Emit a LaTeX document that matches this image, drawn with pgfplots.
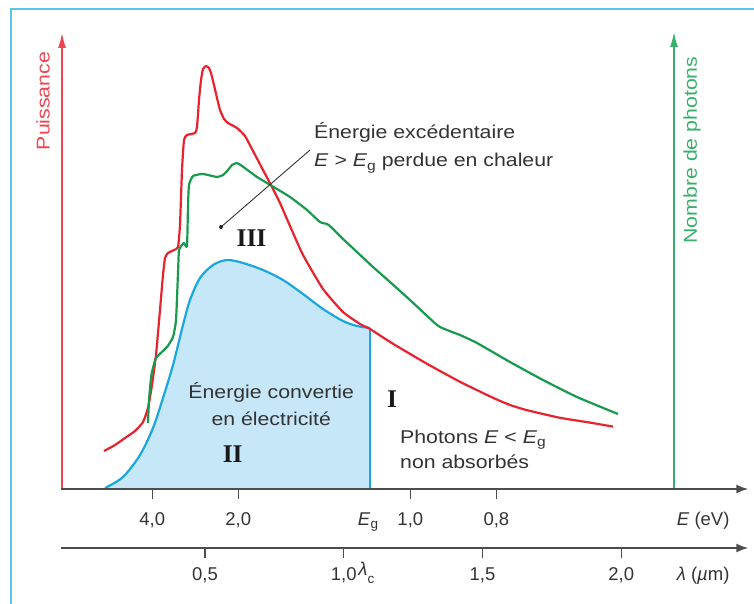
\documentclass[border=0pt]{standalone}
\usepackage{pgfplots}
\pgfplotsset{compat=1.18}
\usepackage{fontspec}
\setmainfont{Liberation Sans}
\newfontfamily\widef{Liberation Sans}[FakeStretch=1.15]
\newfontfamily\romanf{Liberation Serif}
\usetikzlibrary{arrows.meta}
\definecolor{cred}{HTML}{E8232E}
\definecolor{credax}{HTML}{EF4550}
\definecolor{cgreen}{HTML}{179A4D}
\definecolor{cgreenax}{HTML}{36B06A}
\definecolor{cblue}{HTML}{1AA7E1}
\definecolor{cfill}{HTML}{C6E7F8}
\definecolor{cframe}{HTML}{5CC5EE}
\definecolor{caxis}{HTML}{4D4D4D}
\definecolor{ctext}{HTML}{333333}
\newcommand\sub[1]{\raisebox{-0.4ex}{\fontsize{13.5}{14}\selectfont #1}}
\newcommand\txt{\fontsize{18.5}{22}\selectfont}
\newcommand\wtxt{\widef\fontsize{18.5}{22}\selectfont}
\newcommand\rom{\romanf\bfseries\fontsize{25.5}{26}\selectfont}

\pgfplotstableread{
x y
0.1360 9.50
0.1757 11.00
0.2117 12.75
0.2477 14.50
0.2766 16.75
0.2946 20.25
0.3090 26.00
0.3234 33.50
0.3378 44.75
0.3486 53.50
0.3559 57.75
0.3667 59.00
0.3883 59.75
0.4027 60.50
0.4099 66.00
0.4171 79.75
0.4243 87.25
0.4351 88.50
0.4640 89.00
0.4712 90.50
0.4784 97.25
0.4856 102.25
0.4928 105.00
0.5036 105.75
0.5144 105.25
0.5216 104.00
0.5324 101.00
0.5432 97.75
0.5541 94.75
0.5685 92.50
0.5829 91.50
0.6153 90.25
0.6441 88.25
0.6730 84.50
0.7090 79.75
0.7414 75.50
0.7703 71.50
0.8063 65.75
0.8532 58.50
0.9252 50.00
0.9973 44.25
1.0586 41.25
1.0946 40.00
1.1775 36.30
1.3000 31.30
1.4189 26.80
1.5378 22.80
1.5991 21.00
1.6604 19.70
1.7793 17.80
1.8874 16.60
1.9703 15.60
}\powertable

\pgfplotstableread{
x y
0.2946 16.50
0.2982 22.25
0.3054 27.75
0.3090 29.25
0.3234 32.75
0.3631 35.50
0.3847 38.00
0.3955 42.25
0.4027 54.00
0.4063 59.75
0.4171 61.00
0.4243 61.50
0.4351 60.75
0.4387 70.50
0.4423 76.00
0.4568 78.25
0.4928 78.75
0.5432 78.00
0.5649 78.50
0.5829 79.75
0.5973 81.00
0.6153 81.50
0.6333 80.75
0.6874 78.00
0.7414 75.75
0.8063 73.00
0.8676 69.75
0.9144 66.75
0.9396 66.25
0.9541 65.50
0.9973 62.50
1.0477 59.25
1.1054 55.50
1.1667 51.75
1.2387 47.25
1.3360 41.00
1.3721 39.75
1.4189 38.50
1.4802 36.50
1.5991 31.75
1.7180 27.25
1.8405 23.00
1.9883 18.75
}\photontable

\pgfplotstableread{
x y
0.1396 0.25
0.2045 3.00
0.2658 8.50
0.3126 15.25
0.3486 22.75
0.3847 31.00
0.4207 41.00
0.4459 47.25
0.4820 52.75
0.5288 56.00
0.5793 57.25
0.6369 56.50
0.7090 54.75
0.7811 52.25
0.8532 48.75
0.9252 45.00
0.9973 42.00
1.0477 40.75
1.0946 40.25
}\convtable

\begin{document}
\begin{tikzpicture}
\begin{axis}[scale only axis, width=754pt, height=603pt,
  xmin=-0.23874, xmax=2.47838, ymin=-28.5, ymax=122.25,
  axis lines=none, clip=false]
% frame
\draw[cframe, line width=2pt] (axis cs:-0.1991,-30) -- (axis cs:-0.1991,120) -- (axis cs:2.50,120);
% converted energy area
\addplot[fill=cfill, draw=none, smooth, tension=0.5] table {\convtable} \closedcycle;
\addplot[cblue, line width=2.2pt, smooth, tension=0.5] table {\convtable};
\draw[cblue, line width=2.2pt] (axis cs:1.0946,40.25) -- (axis cs:1.0946,0);
% curves
\addplot[cred, line width=2.2pt, smooth, tension=0.3, line join=round] table {\powertable};
\addplot[cgreen, line width=2.2pt, smooth, tension=0.3, line join=round] table {\photontable};
% vertical axes
\draw[credax, line width=1.5pt, -{Latex[length=15pt,width=8pt]}] (axis cs:-0.0153,0) -- (axis cs:-0.0153,114);
\draw[cgreenax, line width=1.5pt, -{Latex[length=15pt,width=8pt]}] (axis cs:2.1901,0) -- (axis cs:2.1901,114.25);
% horizontal axes
\draw[caxis, line width=1.8pt, -{Latex[length=12pt,width=9pt]}] (axis cs:-0.0180,0) -- (axis cs:2.458,0);
\draw[caxis, line width=1.8pt, -{Latex[length=12pt,width=9pt]}] (axis cs:-0.0180,-14.75) -- (axis cs:2.458,-14.75);
\foreach \xx in {0.31,0.62,1.24,1.55}{
  \edef\tmp{\noexpand\draw[caxis, line width=1.4pt] (axis cs:\xx,0) -- (axis cs:\xx,-2.6);}\tmp
}
\foreach \xx in {0.5,1.0,1.5,2.0}{
  \edef\tmp{\noexpand\draw[caxis, line width=1.4pt] (axis cs:\xx,-14.75) -- (axis cs:\xx,-17.35);}\tmp
}
% E tick labels
\node[anchor=base, text=ctext, font=\txt] at (axis cs:0.31,-9) {4,0};
\node[anchor=base, text=ctext, font=\txt] at (axis cs:0.62,-9) {2,0};
\node[anchor=base, text=ctext, font=\txt] at (axis cs:1.0874,-9) {\textit{E}\sub{g}};
\node[anchor=base, text=ctext, font=\txt] at (axis cs:1.24,-9) {1,0};
\node[anchor=base, text=ctext, font=\txt] at (axis cs:1.55,-9) {0,8};
\node[anchor=base east, text=ctext, font=\txt] at (axis cs:2.4027,-9) {\textit{E} (eV)};
% lambda tick labels
\node[anchor=base, text=ctext, font=\txt] at (axis cs:0.5,-22.75) {0,5};
\node[anchor=base, text=ctext, font=\txt] at (axis cs:1.0,-22.75) {1,0};
\node[anchor=base west, text=ctext, font=\txt, inner sep=0pt] at (axis cs:1.0523,-22.75) {\raisebox{0.5ex}{\textit{λ}}\sub{c}};
\node[anchor=base, text=ctext, font=\txt] at (axis cs:1.5,-22.75) {1,5};
\node[anchor=base, text=ctext, font=\txt] at (axis cs:2.0,-22.75) {2,0};
\node[anchor=base east, text=ctext, font=\txt] at (axis cs:2.4027,-22.75) {\textit{λ} (\textit{µ}m)};
% axis titles
\node[rotate=90, text=credax, font=\wtxt] at (axis cs:-0.0838,97) {Puissance};
\node[rotate=90, text=cgreenax, font=\wtxt] at (axis cs:2.2550,84.75) {Nombre de photons};
% annotations
\draw[black!80, line width=0.9pt] (axis cs:0.5577,65.5) -- (axis cs:0.8784,84.75);
\fill[black!85] (axis cs:0.5577,65.5) circle[radius=2pt];
\node[anchor=base west, inner sep=0pt, text=ctext, font=\wtxt] at (axis cs:0.8928,87.5) {Énergie excédentaire};
\node[anchor=base west, inner sep=0pt, text=ctext, font=\wtxt] at (axis cs:0.8928,80.5) {\textit{E} > \textit{E}\sub{g} perdue en chaleur};
\node[anchor=base, inner sep=0pt, text=ctext, font=\wtxt] at (axis cs:0.7387,22.75) {Énergie convertie};
\node[anchor=base, inner sep=0pt, text=ctext, font=\wtxt] at (axis cs:0.7387,16) {en électricité};
\node[anchor=base west, inner sep=0pt, text=ctext, font=\wtxt] at (axis cs:1.2027,11.5) {Photons \textit{E} < \textit{E}\sub{g}};
\node[anchor=base west, inner sep=0pt, text=ctext, font=\wtxt] at (axis cs:1.2027,5.25) {non absorbés};
\node[anchor=base, inner sep=0pt, text=black!90, font=\rom] at (axis cs:0.6676,60.5) {III};
\node[anchor=base, inner sep=0pt, text=black!90, font=\rom] at (axis cs:0.6000,6.75) {II};
\node[anchor=base, inner sep=0pt, text=black!90, font=\rom] at (axis cs:1.1739,20.5) {I};
\end{axis}
\pgfresetboundingbox
\useasboundingbox (current axis.south west) rectangle (current axis.north east);
\end{tikzpicture}
\end{document}
